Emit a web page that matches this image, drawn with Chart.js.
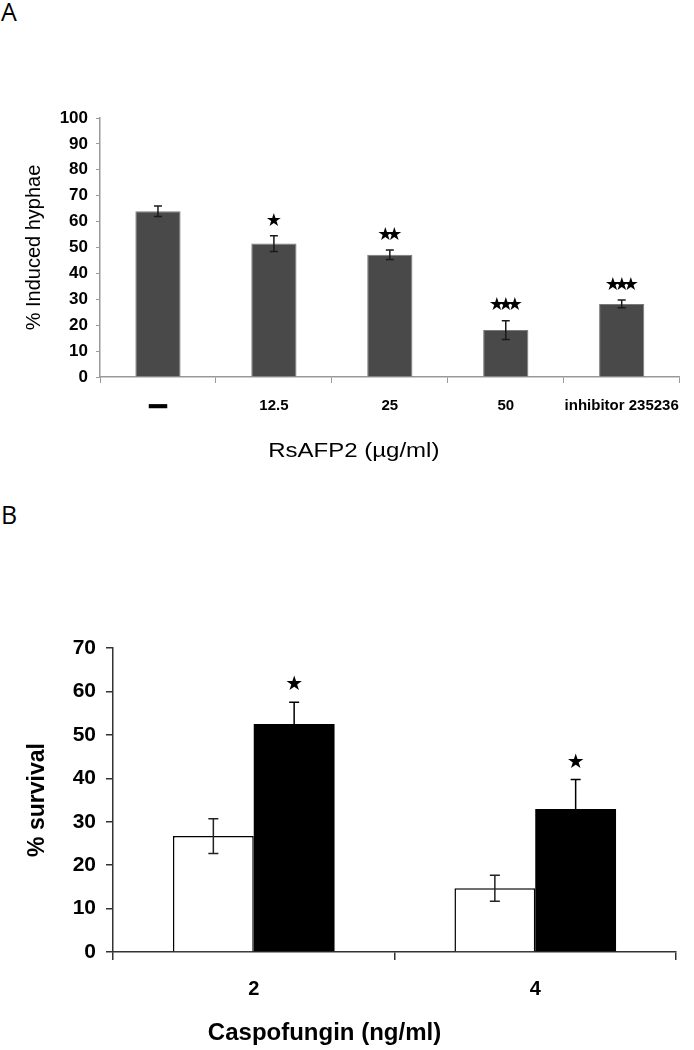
<!DOCTYPE html>
<html>
<head>
<meta charset="utf-8">
<script src="https://cdn.jsdelivr.net/npm/chart.js@4"></script>
<style>
  body { margin: 0; background: #fff; width: 694px; height: 1050px; position: relative; overflow: hidden; }
  canvas { position: absolute; left: 0; }
  .panel { position: absolute; left: 1px; font: 25px "Open Sans", sans-serif; line-height: 25px; color: #000; }
</style>
</head>
<body>
<div class="panel" style="top:-1px">A</div>
<div class="panel" style="top:502px">B</div>
<canvas id="chartA" width="694" height="480" style="top:0"></canvas>
<canvas id="chartB" width="694" height="490" style="top:560px"></canvas>
<script>
// Panel A: induced hyphae vs RsAFP2 dose
const doseLabels = ["\u2014", "12.5", "25", "50", "inhibitor 235236"];
const hyphaeValues = [64, 51.5, 47.2, 18.1, 28.2];
const hyphaeErrors = [2, 3, 1.8, 3.6, 1.5];
const hyphaeStars = [0, 1, 2, 3, 3];

// Panel B: survival vs caspofungin
const caspoLabels = ["2", "4"];
const controlValues = [26.7, 14.7];
const controlErrors = [4, 3];
const rsafpValues = [52.5, 32.9];
const rsafpErrors = [5, 6.8];
const rsafpStars = [1, 1];

// error bars + significance stars, both read from dataset fields
const errorBars = {
    id: "errorBars",
    afterDatasetsDraw(chart, args, opts) {
        const ctx = chart.ctx;
        const y = chart.scales.y;
        chart.data.datasets.forEach((ds, di) => {
            const meta = chart.getDatasetMeta(di);
            meta.data.forEach((bar, i) => {
                const v = ds.data[i];
                const e = ds.errors ? ds.errors[i] : 0;
                const top = y.getPixelForValue(v + e);
                const bot = y.getPixelForValue(v - e);
                ctx.save();
                ctx.strokeStyle = ds.errorColor || opts.color;
                ctx.lineWidth = 1.5;
                ctx.beginPath();
                ctx.moveTo(bar.x, top); ctx.lineTo(bar.x, bot);
                ctx.moveTo(bar.x - opts.cap, top); ctx.lineTo(bar.x + opts.cap, top);
                ctx.moveTo(bar.x - opts.cap, bot); ctx.lineTo(bar.x + opts.cap, bot);
                ctx.stroke();
                const n = ds.stars ? ds.stars[i] : 0;
                if (n) {
                    ctx.fillStyle = "#000";
                    ctx.font = opts.starFont;
                    ctx.textAlign = "center";
                    ctx.textBaseline = "middle";
                    for (let k = 0; k < n; k++) {
                        const sx = bar.x + (k - (n - 1) / 2) * opts.starStep;
                        ctx.fillText("\u2605", sx, top - opts.starGap);
                    }
                }
                ctx.restore();
            });
        });
    }
};

// x axis title, drawn off-centre like the original figure
const xTitle = {
    id: "xTitle",
    afterDraw(chart, args, opts) {
        const ctx = chart.ctx;
        const a = chart.chartArea;
        ctx.save();
        ctx.font = opts.font;
        ctx.fillStyle = "#000";
        ctx.textAlign = "center";
        ctx.textBaseline = "middle";
        ctx.translate((a.left + a.right) / 2 + opts.dx, a.bottom + opts.dy);
        ctx.scale(opts.stretch, 1);
        ctx.fillText(opts.text, 0, 0);
        ctx.restore();
    }
};

new Chart(document.getElementById("chartA"), {
    type: "bar",
    data: {
        labels: doseLabels,
        datasets: [{
            data: hyphaeValues,
            errors: hyphaeErrors,
            stars: hyphaeStars,
            backgroundColor: "#494949",
            borderColor: "#7a7a7a",
            borderWidth: 1,
            categoryPercentage: 0.39,
            barPercentage: 1,
        }],
    },
    options: {
        responsive: false,
        animation: false,
        layout: { padding: { top: 118, right: 12, left: 0, bottom: 0 } },
        plugins: {
            legend: { display: false },
            tooltip: { enabled: false },
            errorBars: { color: "#1a1a1a", cap: 4, starFont: "18px 'DejaVu Sans'", starStep: 9, starGap: 15 },
            xTitle: { text: "RsAFP2 (\u00b5g/ml)", font: "20px 'Liberation Sans'", dx: -36, dy: 74, stretch: 1.2 },
        },
        scales: {
            x: {
                afterFit: (s) => { s.height = 103; },
                grid: { display: true, drawOnChartArea: false, drawTicks: true, tickLength: 6, color: "#999", offset: true },
                border: { color: "#999", width: 1.5 },
                ticks: {
                    color: "#000",
                    font: (c) => ({ family: "Liberation Sans", size: c.index === 0 ? 16 : 15, weight: "bold" }),
                    textStrokeColor: "#000",
                    textStrokeWidth: (c) => (c.index === 0 ? 2.5 : 0),
                    padding: 14, maxRotation: 0, autoSkip: false,
                },
            },
            y: {
                min: 0, max: 100,
                afterFit: (s) => { s.width = 100; },
                grid: { display: true, drawOnChartArea: false, drawTicks: true, tickLength: 4, color: "#999" },
                border: { color: "#999", width: 1.5 },
                ticks: { stepSize: 10, color: "#000", font: { family: "Liberation Sans", size: 17, weight: "bold" }, padding: 8 },
                title: { display: true, text: "% Induced hyphae", color: "#000", font: { family: "Liberation Sans", size: 20 }, padding: { top: 22, bottom: 0 } },
            },
        },
    },
    plugins: [errorBars, xTitle],
});

new Chart(document.getElementById("chartB"), {
    type: "bar",
    data: {
        labels: caspoLabels,
        datasets: [{
            data: controlValues,
            errors: controlErrors,
            backgroundColor: "#fff",
            borderColor: "#000",
            borderWidth: 1.5,
            categoryPercentage: 0.574,
            barPercentage: 1,
        }, {
            data: rsafpValues,
            errors: rsafpErrors,
            errorColor: "#000",
            stars: rsafpStars,
            backgroundColor: "#000",
            borderColor: "#000",
            borderWidth: 0,
            categoryPercentage: 0.574,
            barPercentage: 1,
        }],
    },
    options: {
        responsive: false,
        animation: false,
        layout: { padding: { top: 88, right: 18, left: 0, bottom: 0 } },
        plugins: {
            legend: { display: false },
            tooltip: { enabled: false },
            errorBars: { color: "#222", cap: 5, starFont: "20px 'DejaVu Sans'", starStep: 12, starGap: 17 },
            xTitle: { text: "Caspofungin (ng/ml)", font: "bold 24px 'Liberation Sans'", dx: -70, dy: 81, stretch: 1 },
        },
        scales: {
            x: {
                afterFit: (s) => { s.height = 98; },
                grid: { display: true, drawOnChartArea: false, drawTicks: true, tickLength: 8, color: "#333", offset: true, lineWidth: 1.5 },
                border: { color: "#333", width: 1.5 },
                ticks: { color: "#000", font: { family: "Liberation Sans", size: 20, weight: "bold" }, padding: 17, maxRotation: 0 },
            },
            y: {
                min: 0, max: 70,
                afterFit: (s) => { s.width = 113; },
                grid: { display: true, drawOnChartArea: false, drawTicks: true, tickLength: 7, color: "#333", lineWidth: 1.5 },
                border: { color: "#333", width: 1.5 },
                ticks: { stepSize: 10, color: "#000", font: { family: "Liberation Sans", size: 21, weight: "bold" }, padding: 10 },
                title: { display: true, text: "% survival", color: "#000", font: { family: "Liberation Sans", size: 23, weight: "bold" }, padding: { top: 24, bottom: 0 } },
            },
        },
    },
    plugins: [errorBars, xTitle],
});
</script>
</body>
</html>
